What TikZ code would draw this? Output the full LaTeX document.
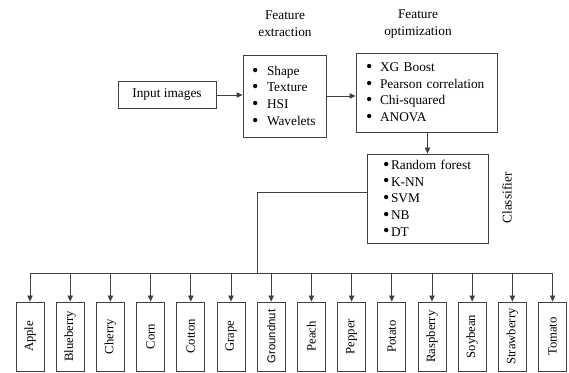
\documentclass[tikz,border=0pt]{standalone}
\usepackage{fontspec}
\setmainfont{Liberation Serif}
\newfontfamily\gfont{Liberation Sans}
\usepackage{graphicx}
\usetikzlibrary{arrows.meta}
\tikzset{>={Triangle[length=4.5pt,width=4pt]}}
\newcommand\bul[1]{\makebox[#1][l]{\raisebox{-0.15ex}{\scalebox{1.35}{\textbullet}}}}

\begin{document}
\begin{tikzpicture}[x=0.75pt,y=-0.75pt,
    box/.style={draw=black!75, line width=0.6pt, font=\fontsize{10}{12.5}\selectfont},
    listbox/.style={box, align=left, inner ysep=0pt},
    fruitbox/.style={box, minimum width=21pt, minimum height=51.75pt, inner sep=0pt, font=\fontsize{9.5}{11}\selectfont},
    title/.style={align=center, font=\fontsize{10}{13}\selectfont},
    link/.style={draw=black!75, line width=0.6pt}]
  \useasboundingbox (0,0) rectangle (569,373);
  % titles
  \node[title] (t-extract) at (285,24) {Feature\\extraction};
  \node[title] (t-optimize) at (418,24) {Feature\\optimization};
  % pipeline
  \node[box, minimum width=73.5pt, minimum height=20.25pt] (input) at (167,95) {Input images};
  \node[listbox, text width=48.75pt, inner xsep=6.75pt, minimum height=61.5pt] (extract) at (284.5,96)
    {\bul{11.25pt}Shape\\ \bul{11.25pt}Texture\\ \bul{11.25pt}HSI\\ \bul{11.25pt}Wavelets};
  \node[listbox, text width=90.75pt, inner xsep=7.5pt, minimum height=59.25pt] (optimize) at (426.5,92.5)
    {\bul{10.5pt}XG Boost\\ \bul{10.5pt}Pearson correlation\\ \bul{10.5pt}Chi-squared\\ \bul{10.5pt}ANOVA};
  \node[listbox, text width=66.75pt, inner xsep=12pt, minimum height=66.75pt] (classify) at (427.5,198.5)
    {\bul{6pt}Random forest\\ \bul{6pt}K-NN\\ \bul{6pt}SVM\\ \bul{6pt}NB\\ \bul{6pt}DT};
  \node[font=\fontsize{10}{12}\selectfont, rotate=90] (t-classify) at (507,198) {Classifier};
  \draw[link,->] (input.east) -- (input.east -| extract.west);
  \draw[link,->] (extract.east) -- (extract.east -| optimize.west);
  \draw[link,->] (classify.north |- optimize.south) -- (classify.north);
  % classes
  \coordinate (split) at (257,273);
  \draw[link] ([yshift=4.9pt]classify.west) -| (split);
  \foreach \fruit/\lab [count=\i from 0] in {apple/Apple, blueberry/Blueberry, cherry/Cherry, corn/Corn,
      cotton/Cotton, grape/Grape, groundnut/{\gfont\fontsize{8.5}{10}\selectfont Groundnut}, peach/Peach,
      pepper/Pepper, potato/Potato, raspberry/Raspberry, soybean/Soybean, strawberry/Strawberry, tomato/Tomato}
    \node[fruitbox] (\fruit) at (30+40.2*\i,336.5) {\rotatebox{90}{\lab}};
  \draw[link] (apple.north |- split) -- (tomato.north |- split);
  \foreach \fruit in {apple,blueberry,cherry,corn,cotton,grape,groundnut,peach,pepper,potato,raspberry,soybean,strawberry,tomato}
    \draw[link,->] (\fruit.north |- split) -- (\fruit.north);
\end{tikzpicture}
\end{document}
